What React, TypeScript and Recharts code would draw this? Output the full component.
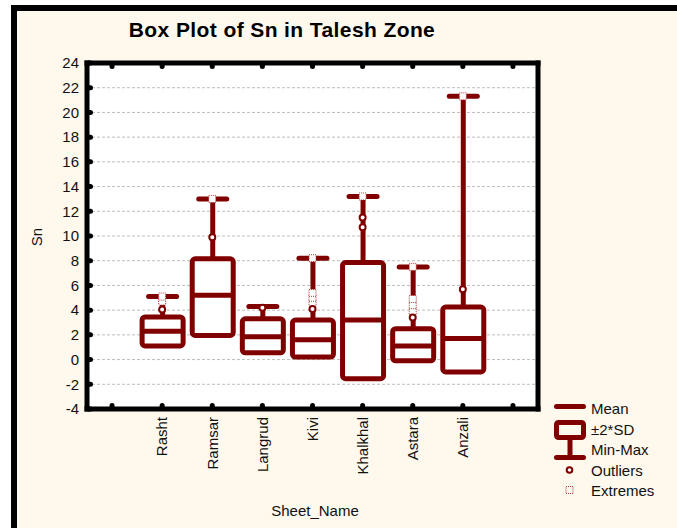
import React from 'react';
import { ComposedChart, Bar, Scatter, XAxis, YAxis, CartesianGrid } from 'recharts';

const categories = ['', 'Rasht', 'Ramsar', 'Langrud', 'Kivi', 'Khalkhal', 'Astara', 'Anzali', ' '];
const boxLow = [null, 1.1, 1.95, 0.55, 0.2, -1.55, -0.1, -1.0, null];
const boxHigh = [null, 3.45, 8.15, 3.3, 3.2, 7.85, 2.5, 4.25, null];
const means = [null, 2.3, 5.2, 1.85, 1.6, 3.2, 1.1, 1.7, null];
const maxes = [null, 5.1, 13.0, 4.3, 8.2, 13.2, 7.5, 21.3, null];
const outliersA = [null, 4.05, 9.9, 4.2, 4.1, 11.5, 3.4, 5.7, null];
const outliersB = [null, null, null, null, null, 10.7, null, null, null];
const extremesA = [null, 4.7, 13.0, null, 4.6, 13.2, 3.9, 21.3, null];
const extremesB = [null, 5.1, null, null, 5.0, null, 4.4, null, null];
const extremesC = [null, null, null, null, 5.4, null, 4.9, null, null];
const extremesD = [null, null, null, null, 8.2, null, 7.5, null, null];
const yTicks = [-4, -2, 0, 2, 4, 6, 8, 10, 12, 14, 16, 18, 20, 22, 24];

const MAROON = '#800000';
const FONT = '"Liberation Sans", Arial, sans-serif';
const CREAM = '#FFF8EC';

const rows = categories.map((name, i) => ({
    name,
    box: boxLow[i] == null ? null : [boxLow[i], boxHigh[i]],
    whisker: boxHigh[i] == null ? null : [boxHigh[i], maxes[i]],
    mean: means[i],
    out1: outliersA[i],
    out2: outliersB[i],
    ext1: extremesA[i],
    ext2: extremesB[i],
    ext3: extremesC[i],
    ext4: extremesD[i],
}));

const BoxShape = (p: any) => {
    const { x, y, width, height } = p;
    if (x == null || y == null || !height) return <g />;
    const top = Math.min(y, y + height);
    return (
        <rect x={x} y={top} width={width} height={Math.abs(height)} rx={3}
            fill="#fff" stroke={MAROON} strokeWidth={5} />
    );
};

const WhiskerShape = (p: any) => {
    const { x, y, width, height } = p;
    if (x == null || y == null || !height) return <g />;
    const cx = x + width / 2;
    const top = Math.min(y, y + height);
    const bottom = Math.max(y, y + height);
    return (
        <g>
            <line x1={cx} x2={cx} y1={top} y2={bottom} stroke={MAROON} strokeWidth={5} />
            <line x1={cx - 14} x2={cx + 14} y1={top} y2={top} stroke={MAROON} strokeWidth={5} strokeLinecap="round" />
        </g>
    );
};

const meanShape = (key: string) => (p: any) => {
    if (p.payload?.[key] == null || p.cy == null) return <g />;
    return <line x1={p.cx - 20} x2={p.cx + 20} y1={p.cy} y2={p.cy} stroke={MAROON} strokeWidth={5} />;
};

const outlierShape = (key: string) => (p: any) => {
    if (p.payload?.[key] == null || p.cy == null) return <g />;
    return <circle cx={p.cx} cy={p.cy} r={3} fill="#fff" stroke={MAROON} strokeWidth={2} />;
};

const extremeShape = (key: string) => (p: any) => {
    if (p.payload?.[key] == null || p.cy == null) return <g />;
    return (
        <rect x={p.cx - 3.5} y={p.cy - 3.5} width={7} height={7} fill="#fff"
            stroke="#b03a3a" strokeWidth={1} strokeDasharray="1 1" />
    );
};

// tick nubs point into the plot, like the original frame
const GAP = 8;
const Nub = ({ x1, y1, x2, y2 }: any) => (
    <line x1={x1} y1={y1} x2={x2} y2={y2} stroke="#000" strokeWidth={5} strokeLinecap="round" />
);

const CategoryTick = (p: any) => {
    const { x, y, payload } = p;
    const axisY = y - GAP;
    return (
        <g>
            <Nub x1={x} x2={x} y1={axisY - 2} y2={axisY - 3.5} />
            <text x={x} y={y} dy="0.35em" transform={`rotate(-90, ${x}, ${y})`} textAnchor="end"
                fontSize={15} fill="#111" fontFamily={FONT}>
                {payload.value}
            </text>
        </g>
    );
};

const LeftTick = (p: any) => {
    const { x, y, payload } = p;
    const axisX = x + GAP;
    return (
        <g>
            <Nub x1={axisX + 2} x2={axisX + 3.5} y1={y} y2={y} />
            <text x={x} y={y} dy="0.35em" textAnchor="end" fontSize={15} fill="#111" fontFamily={FONT}>
                {payload.value}
            </text>
        </g>
    );
};

const TopTick = (p: any) => <Nub x1={p.x} x2={p.x} y1={p.y + 2} y2={p.y + 3.5} />;
const RightTick = (p: any) => <Nub x1={p.x - 2} x2={p.x - 3.5} y1={p.y} y2={p.y} />;

const frameLine = { stroke: '#000', strokeWidth: 5, strokeLinecap: 'square' as const };

export default function App() {
    return (
        <div style={{ position: 'fixed', left: 0, top: 0, width: 677, height: 528, background: '#fff', overflow: 'hidden' }}>
            <div style={{
                position: 'absolute', left: 11, top: 5, right: 0, bottom: 0,
                borderLeft: '6px solid #000', borderTop: '6px solid #000', background: CREAM,
            }} />
            {/* white plotting area behind the chart */}
            <div style={{ position: 'absolute', left: 87, top: 63, width: 451, height: 346, background: '#fff' }} />
            <div style={{ position: 'absolute', left: 0, top: 0 }}>
                <ComposedChart width={677} height={528} data={rows}
                    margin={{ top: 53, right: 129, bottom: 59, left: 47 }}>
                    <CartesianGrid horizontal vertical={false}
                        stroke="#bdbdbd" strokeDasharray="3 2" yAxisId="left" xAxisId="bottom" />
                    <XAxis xAxisId="bottom" dataKey="name" type="category" height={60} interval={0}
                        axisLine={frameLine} tickLine={false} tickSize={0} tickMargin={GAP}
                        tick={<CategoryTick />} />
                    <XAxis xAxisId="top" dataKey="name" type="category" orientation="top" height={10} interval={0}
                        axisLine={frameLine} tickLine={false} tickSize={0} tickMargin={0} tick={<TopTick />} />
                    <YAxis yAxisId="left" type="number" domain={[-4, 24]} ticks={yTicks} width={40} interval={0}
                        axisLine={frameLine} tickLine={false} tickSize={0} tickMargin={GAP} tick={<LeftTick />} />
                    <YAxis yAxisId="right" type="number" orientation="right" domain={[-4, 24]} ticks={yTicks}
                        width={10} interval={0} axisLine={frameLine} tickLine={false} tickSize={0} tickMargin={0}
                        tick={<RightTick />} />
                    <Bar xAxisId="top" yAxisId="left" dataKey="whisker" barSize={41}
                        shape={<WhiskerShape />} isAnimationActive={false} />
                    <Bar xAxisId="bottom" yAxisId="left" dataKey="box" barSize={41}
                        shape={<BoxShape />} isAnimationActive={false} />
                    <Scatter xAxisId="bottom" yAxisId="left" dataKey="mean" shape={meanShape('mean')} isAnimationActive={false} />
                    <Scatter xAxisId="bottom" yAxisId="left" dataKey="ext1" shape={extremeShape('ext1')} isAnimationActive={false} />
                    <Scatter xAxisId="bottom" yAxisId="left" dataKey="ext2" shape={extremeShape('ext2')} isAnimationActive={false} />
                    <Scatter xAxisId="bottom" yAxisId="left" dataKey="ext3" shape={extremeShape('ext3')} isAnimationActive={false} />
                    <Scatter xAxisId="bottom" yAxisId="left" dataKey="ext4" shape={extremeShape('ext4')} isAnimationActive={false} />
                    <Scatter xAxisId="bottom" yAxisId="left" dataKey="out1" shape={outlierShape('out1')} isAnimationActive={false} />
                    <Scatter xAxisId="bottom" yAxisId="left" dataKey="out2" shape={outlierShape('out2')} isAnimationActive={false} />
                </ComposedChart>
            </div>
            <svg width={677} height={528} style={{ position: 'absolute', left: 0, top: 0, pointerEvents: 'none' }}
                fontFamily={FONT}>
                <text x={282} y={37} textAnchor="middle" fontSize={21} fontWeight="bold" letterSpacing={0.4} fill="#000">
                    Box Plot of Sn in Talesh Zone
                </text>
                <text x={42} y={237} textAnchor="middle" fontSize={15} fill="#111" transform="rotate(-90, 42, 237)">Sn</text>
                <text x={315} y={516} textAnchor="middle" fontSize={15} fill="#111">Sheet_Name</text>
                {/* legend */}
                <line x1={556.5} x2={583.5} y1={406.5} y2={406.5} stroke={MAROON} strokeWidth={5} strokeLinecap="round" />
                <line x1={570} x2={570} y1={438} y2={457.5} stroke={MAROON} strokeWidth={5} />
                <rect x={556.5} y={422.5} width={27} height={15} rx={2} fill={CREAM} stroke={MAROON} strokeWidth={5} />
                <line x1={556.5} x2={583.5} y1={457.5} y2={457.5} stroke={MAROON} strokeWidth={5} strokeLinecap="round" />
                <circle cx={569.5} cy={470} r={2.8} fill="#fff" stroke={MAROON} strokeWidth={2} />
                <rect x={566} y={486.5} width={7} height={7} fill="none" stroke="#b03a3a" strokeWidth={1} strokeDasharray="1 1" />
                {['Mean', '±2*SD', 'Min-Max', 'Outliers', 'Extremes'].map((t, i) => (
                    <text key={t} x={591} y={[408.5, 429.5, 450, 470.5, 491][i] + 5.3} fontSize={15} fill="#111">{t}</text>
                ))}
            </svg>
        </div>
    );
}
